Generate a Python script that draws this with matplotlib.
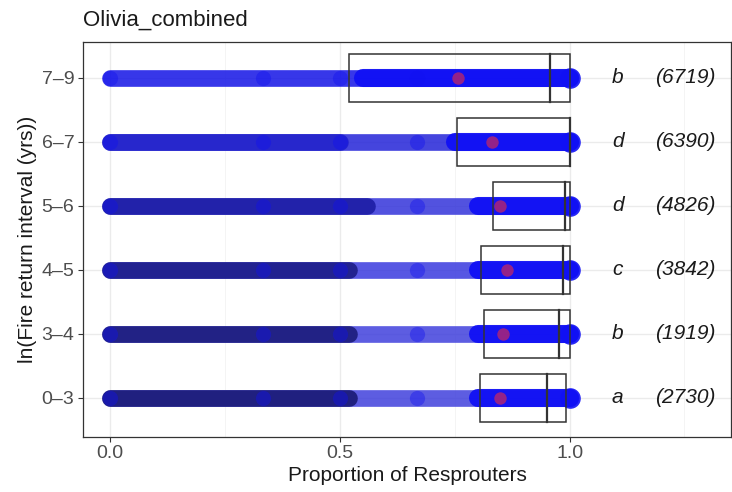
import matplotlib
matplotlib.use("Agg")
import matplotlib.pyplot as plt

plt.rcParams["font.family"] = ["Liberation Sans", "DejaVu Sans"]

# categories bottom -> top
intervals = ["0–3", "3–4", "4–5", "5–6", "6–7", "7–9"]
letters = ["a", "b", "c", "d", "d", "b"]
counts = [2730, 1919, 3842, 4826, 6390, 6719]

# box statistics (proportion of resprouters)
q1 = [0.804, 0.813, 0.807, 0.833, 0.754, 0.52]
median = [0.95, 0.978, 0.985, 0.99, 1.0, 0.958]
q3 = [0.993, 1.0, 1.0, 1.0, 1.0, 1.0]
mean = [0.848, 0.855, 0.863, 0.848, 0.83, 0.757]

# strip extents
strip_min = [0.0, 0.0, 0.0, 0.0, 0.0, 0.0]
strip_max = [1.0, 1.0, 1.0, 1.0, 1.0, 1.0]
dark_end = [0.52, 0.52, 0.52, 0.56, 0.5, 0.0]
dense_start = [0.8, 0.8, 0.8, 0.8, 0.75, 0.55]
common_props = [0.0, 0.333, 0.5, 0.667, 1.0]

dark_cols = ["#1d1d7a", "#1f1f80", "#20208c", "#2020a8", "#2626cc", "#1414e6"]
mid_cols = ["#4040dc", "#4040dc", "#3a3ade", "#3434da", "#2424d8", "#1414e6"]

fig = plt.figure(figsize=(7.32, 4.92), dpi=100)
ax = fig.add_axes([0.113, 0.112, 0.886, 0.803])
ax.set_xlim(-0.06, 1.352)
ax.set_ylim(-0.61, 5.56)

# grid like theme_bw
for x in [0.25, 0.75, 1.25]:
    ax.axvline(x, color="#f2f2f2", lw=0.6, zorder=0)
for x in [0.0, 0.5, 1.0]:
    ax.axvline(x, color="#ebebeb", lw=1.0, zorder=0)
for i in range(len(intervals)):
    ax.axhline(i, color="#ebebeb", lw=1.0, zorder=0)

for i in range(len(intervals)):
    # whole strip
    ax.hlines(i, strip_min[i], strip_max[i], color=mid_cols[i], alpha=0.85, lw=12,
              capstyle="round", zorder=2)
    # dark low-proportion part
    if dark_end[i] > strip_min[i]:
        ax.hlines(i, strip_min[i], dark_end[i], color=dark_cols[i], alpha=0.95, lw=12,
                  capstyle="round", zorder=3)
    # dense high-proportion part
    ax.hlines(i, dense_start[i], strip_max[i], color="#1010f5", alpha=0.95, lw=13,
              capstyle="round", zorder=3)
    ax.scatter(common_props, [i] * len(common_props), s=120, color="#1010f0",
               alpha=0.4, lw=0, zorder=3)
    ax.scatter([strip_max[i]], [i], s=220, color="#1010f5", alpha=0.9, lw=0, zorder=3)

    # box without whiskers
    ax.add_patch(plt.Rectangle((q1[i], i - 0.375), q3[i] - q1[i], 0.75, fill=False,
                               edgecolor="#333333", lw=1.1, zorder=4))
    ax.plot([median[i], median[i]], [i - 0.375, i + 0.375], color="#333333", lw=1.6,
            zorder=4)
    ax.scatter([mean[i]], [i], s=80, color="#ff3030", alpha=0.55, lw=0, zorder=5)

    ax.text(1.105, i, letters[i], ha="center", va="center", fontsize=15,
            style="italic", color="#1a1a1a")
    ax.text(1.252, i, f"({counts[i]})", ha="center", va="center", fontsize=15,
            style="italic", color="#1a1a1a")

ax.set_xticks([0.0, 0.5, 1.0])
ax.set_xticklabels(["0.0", "0.5", "1.0"])
ax.set_yticks(range(len(intervals)))
ax.set_yticklabels(intervals)
ax.tick_params(colors="#333333", labelcolor="#4d4d4d", labelsize=14, length=3.5,
               width=0.8, pad=2.5)
for s in ax.spines.values():
    s.set_color("#333333")
    s.set_linewidth(0.9)

ax.set_xlabel("Proportion of Resprouters", fontsize=15, color="#1a1a1a", labelpad=3)
ax.set_ylabel("ln(Fire return interval (yrs))", fontsize=15, color="#1a1a1a", labelpad=3)
fig.text(0.113, 0.958, "Olivia_combined", fontsize=16, color="#1a1a1a", ha="left",
         va="center")

fig.savefig("out.png", dpi=100)
